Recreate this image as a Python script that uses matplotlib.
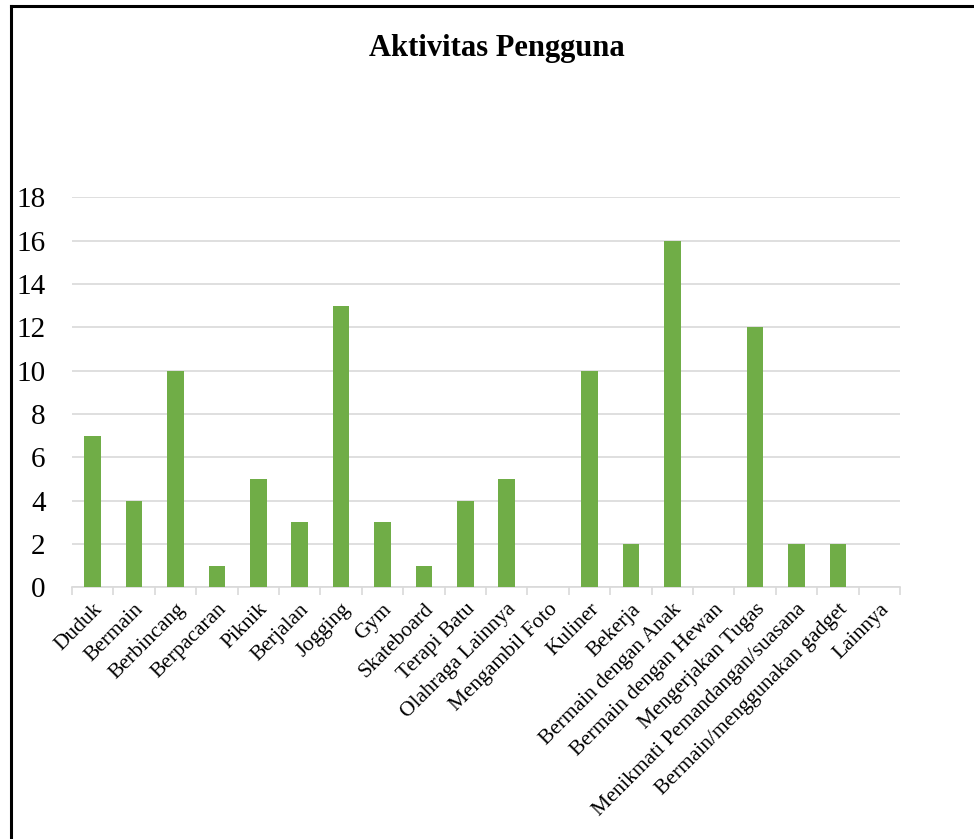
import matplotlib.pyplot as plt
from matplotlib.lines import Line2D
import numpy as np

# Data
kategori = ['Duduk', 'Bermain', 'Berbincang', 'Berpacaran', 'Piknik', 'Berjalan',
            'Jogging', 'Gym', 'Skateboard', 'Terapi Batu', 'Olahraga Lainnya',
            'Mengambil Foto', 'Kuliner', 'Bekerja', 'Bermain dengan Anak',
            'Bermain dengan Hewan', 'Mengerjakan Tugas',
            'Menikmati Pemandangan/suasana', 'Bermain/menggunakan gadget', 'Lainnya']
jumlah = [7, 4, 10, 1, 5, 3, 13, 3, 1, 4, 5, 0, 10, 2, 16, 0, 12, 2, 2, 0]
y_ticks = [0, 2, 4, 6, 8, 10, 12, 14, 16, 18]

plt.rcParams['font.family'] = ['Liberation Serif', 'DejaVu Serif']

fig = plt.figure(figsize=(9.74, 8.39), dpi=100)
ax = fig.add_axes([0.074, 0.300, 0.850, 0.465])

x = np.arange(len(kategori))
ax.bar(x, jumlah, width=0.4, color='#70AD47', zorder=3)

ax.set_xlim(-0.5, len(kategori) - 0.5)
ax.set_ylim(0, 18)
ax.set_yticks(y_ticks)
ax.set_yticklabels([str(v) for v in y_ticks], fontsize=21)
ax.tick_params(axis='y', length=0, pad=19)
ax.grid(axis='y', color='#D9D9D9', linewidth=1.2, zorder=0)

# Ticks at category boundaries
ax.set_xticks(np.arange(len(kategori) + 1) - 0.5)
ax.set_xticklabels([])
ax.tick_params(axis='x', which='major', length=6, color='#D9D9D9', width=1.2)
ax.set_xticks(x, minor=True)
ax.set_xticklabels(kategori, minor=True, rotation=45, ha='right',
                   rotation_mode='anchor', fontsize=15.5)
ax.tick_params(axis='x', which='minor', length=0, pad=9)

for s in ['top', 'right', 'left']:
    ax.spines[s].set_visible(False)
ax.spines['bottom'].set_color('#D9D9D9')
ax.spines['bottom'].set_linewidth(1.2)

fig.text(0.51, 0.942, 'Aktivitas Pengguna', ha='center', va='center',
         fontsize=22, fontweight='bold')

# Outer frame (top and left)
fig.add_artist(Line2D([11 / 974, 1.0], [1 - 6 / 839, 1 - 6 / 839],
                      transform=fig.transFigure, color='black', linewidth=2.2))
fig.add_artist(Line2D([11 / 974, 11 / 974], [0, 1 - 6 / 839],
                      transform=fig.transFigure, color='black', linewidth=2.2))

fig.savefig('out.png', dpi=100)
